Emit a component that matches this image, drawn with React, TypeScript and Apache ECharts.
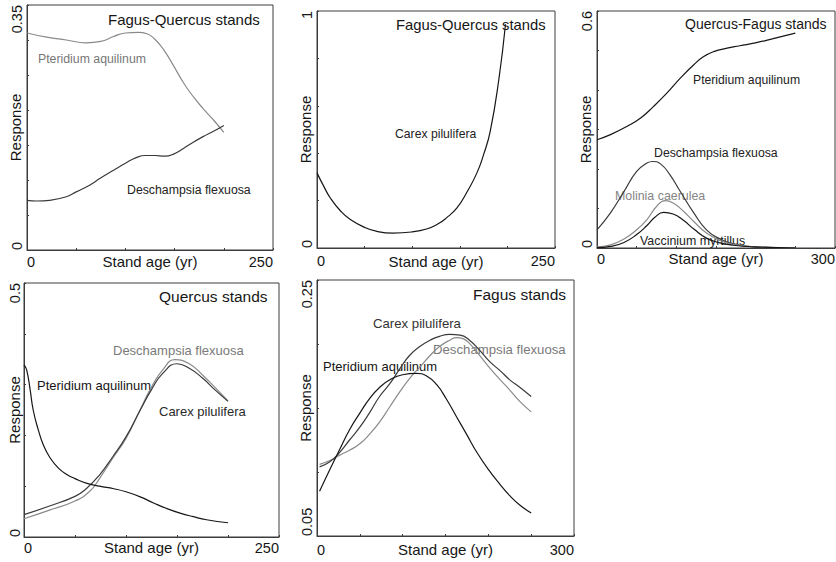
import { useEffect, useRef } from 'react';
import * as echarts from 'echarts';

type Pt = [number, number];

// Fitted species response curves: [stand age (yr), response]

// Fagus-Quercus stands
const fqPteridium: Pt[] = [
  [0, 0.31], [20, 0.304], [40, 0.3], [60, 0.296], [75, 0.298], [88, 0.305], [100, 0.31],
  [113, 0.311], [122, 0.309], [130, 0.301], [139, 0.286], [149, 0.263], [159, 0.239],
  [169, 0.219], [179, 0.202], [190, 0.185], [200, 0.168],
];
const fqDeschampsia: Pt[] = [
  [0, 0.071], [10, 0.07], [23, 0.071], [40, 0.076], [50, 0.083], [64, 0.093], [74, 0.102],
  [88, 0.114], [100, 0.124], [111, 0.132], [120, 0.135], [130, 0.135], [140, 0.134],
  [149, 0.137], [159, 0.145], [169, 0.154], [179, 0.162], [190, 0.17], [200, 0.178],
];
const fqCarex: Pt[] = [
  [0, 0.317], [7, 0.261], [14, 0.211], [25, 0.155], [35, 0.12], [50, 0.087], [63, 0.07],
  [80, 0.063], [100, 0.068], [115, 0.08], [126, 0.099], [136, 0.127], [147, 0.169],
  [157, 0.232], [168, 0.317], [175, 0.394], [182, 0.493], [191, 0.711], [198, 0.944],
];

// Quercus-Fagus stands
const qfPteridium: Pt[] = [
  [0, 0.274], [17, 0.287], [38, 0.308], [55, 0.329], [71, 0.358], [88, 0.392], [105, 0.43],
  [122, 0.464], [134, 0.484], [147, 0.497], [164, 0.506], [180, 0.512], [201, 0.52],
  [222, 0.53], [250, 0.544],
];
const qfDeschampsia: Pt[] = [
  [0, 0.046], [17, 0.089], [34, 0.143], [50, 0.194], [63, 0.215], [70, 0.219], [80, 0.213],
  [92, 0.185], [105, 0.143], [122, 0.089], [138, 0.046], [155, 0.023], [172, 0.011],
  [197, 0.003], [222, 0.001], [250, 0],
];
const qfMolinia: Pt[] = [
  [0, 0.003], [17, 0.008], [34, 0.023], [50, 0.046], [63, 0.072], [75, 0.105], [86, 0.12],
  [96, 0.114], [109, 0.093], [122, 0.067], [138, 0.038], [155, 0.019], [172, 0.009],
  [197, 0.003], [250, 0],
];
const qfVaccinium: Pt[] = [
  [0, 0.001], [17, 0.004], [34, 0.014], [50, 0.034], [63, 0.057], [73, 0.078], [84, 0.09],
  [96, 0.086], [109, 0.07], [122, 0.048], [138, 0.025], [155, 0.013], [172, 0.007],
  [197, 0.003], [250, 0],
];

// Quercus stands
const qPteridium: Pt[] = [
  [0, 0.339], [2.6, 0.329], [6, 0.29], [9, 0.25], [14, 0.211], [19, 0.181], [25.5, 0.156],
  [34, 0.135], [42, 0.123], [50, 0.115], [61, 0.106], [74, 0.1], [88, 0.095], [100, 0.089],
  [114, 0.079], [127, 0.067], [140, 0.056], [153, 0.047], [166, 0.04], [179, 0.034], [200, 0.028],
];
const qCarex: Pt[] = [
  [0, 0.044], [25, 0.061], [50, 0.08], [61, 0.095], [74, 0.122], [87, 0.158], [100, 0.197],
  [114, 0.25], [125, 0.29], [136, 0.322], [150, 0.341], [162, 0.332], [175, 0.313],
  [187, 0.29], [200, 0.267],
];
const qDeschampsia: Pt[] = [
  [0, 0.036], [25, 0.053], [50, 0.071], [65, 0.091], [74, 0.115], [87, 0.155], [100, 0.194],
  [114, 0.251], [125, 0.295], [136, 0.329], [148, 0.349], [162, 0.341], [175, 0.319],
  [187, 0.295], [200, 0.268],
];

// Fagus stands
const fPteridium: Pt[] = [
  [3, 0.085], [15, 0.102], [26, 0.117], [38, 0.133], [50, 0.146], [62, 0.158], [73, 0.166],
  [85, 0.172], [100, 0.176], [116, 0.177], [128, 0.175], [140, 0.168], [151, 0.157],
  [163, 0.143], [175, 0.129], [186, 0.116], [200, 0.102], [214, 0.09], [225, 0.0815],
  [237, 0.074], [250, 0.068],
];
const fCarex: Pt[] = [
  [3, 0.104], [15, 0.108], [26, 0.115], [38, 0.125], [50, 0.135], [62, 0.147], [73, 0.159],
  [85, 0.169], [97, 0.181], [108, 0.191], [120, 0.198], [132, 0.203], [143, 0.206],
  [155, 0.2075], [167, 0.207], [178, 0.203], [190, 0.195], [202, 0.186], [214, 0.179],
  [225, 0.172], [237, 0.166], [250, 0.159],
];
const fDeschampsia: Pt[] = [
  [3, 0.106], [15, 0.109], [26, 0.113], [38, 0.117], [50, 0.122], [62, 0.13], [73, 0.139],
  [85, 0.151], [97, 0.163], [108, 0.173], [120, 0.182], [132, 0.191], [143, 0.198],
  [155, 0.203], [163, 0.205], [171, 0.204], [178, 0.2005], [190, 0.191], [202, 0.181],
  [214, 0.172], [225, 0.164], [237, 0.155], [250, 0.147],
];

// Axis ranges and end tick labels per panel: [min, max, step]
const xRanges: [number, number, number][] = [
  [0, 250, 50], [0, 250, 50], [0, 300, 50], [0, 250, 50], [0, 300, 50],
];
const yRanges: [number, number, number][] = [
  [0, 0.35, 0.05], [0, 1, 0.2], [0, 0.6, 0.1], [0, 0.5, 0.1], [0.05, 0.25, 0.05],
];
const xTickLabels = [['0', '250'], ['0', '250'], ['0', '300'], ['0', '250'], ['0', '300']];
const yTickLabels = [['0', '0.35'], ['0', '1'], ['0', '0.6'], ['0', '0.5'], ['0.05', '0.25']];

const xTitle = 'Stand age (yr)';
const yTitle = 'Response';

// Panel frames in pixels plus label spacing
const panelBoxes = [
  { left: 27, top: 5, width: 246, height: 245, xMargin: 4, yMargin: 3 },
  { left: 317, top: 11, width: 238, height: 237, xMargin: 5.5, yMargin: 3 },
  { left: 597, top: 11, width: 238, height: 237, xMargin: 3, yMargin: 3 },
  { left: 24, top: 283, width: 255, height: 254, xMargin: 3, yMargin: 1.5 },
  { left: 317, top: 280, width: 257, height: 256, xMargin: 6, yMargin: 3 },
];

const FONT = '"Liberation Sans", Arial, Helvetica, sans-serif';
const BLACK = '#161616';
const DARK = '#3a3a3a';
const GRAY = '#8a8a8a';
const AXIS = '#3c3c3c';

const curves: { panel: number; data: Pt[]; color: string }[] = [
  { panel: 0, data: fqPteridium, color: GRAY },
  { panel: 0, data: fqDeschampsia, color: DARK },
  { panel: 1, data: fqCarex, color: BLACK },
  { panel: 2, data: qfPteridium, color: BLACK },
  { panel: 2, data: qfDeschampsia, color: DARK },
  { panel: 2, data: qfMolinia, color: GRAY },
  { panel: 2, data: qfVaccinium, color: BLACK },
  { panel: 3, data: qDeschampsia, color: GRAY },
  { panel: 3, data: qCarex, color: DARK },
  { panel: 3, data: qPteridium, color: BLACK },
  { panel: 4, data: fDeschampsia, color: GRAY },
  { panel: 4, data: fCarex, color: DARK },
  { panel: 4, data: fPteridium, color: BLACK },
];

// Stand-type headings and species names: [text, x, y, size, colour]
const annotations: [string, number, number, number, string][] = [
  ['Fagus-Quercus stands', 108, 19, 15, BLACK],
  ['Pteridium aquilinum', 38, 58.5, 12.3, '#777777'],
  ['Deschampsia flexuosa', 127, 190, 12.3, '#222222'],
  ['Fagus-Quercus stands', 396, 25.3, 14.8, BLACK],
  ['Carex pilulifera', 395, 133.7, 12.2, '#222222'],
  ['Quercus-Fagus stands', 685, 24, 14, BLACK],
  ['Pteridium aquilinum', 693, 79.7, 12.2, '#222222'],
  ['Deschampsia flexuosa', 654, 153, 12.3, '#222222'],
  ['Molinia caerulea', 615, 196.3, 12.4, '#858585'],
  ['Vaccinium myrtillus', 640, 241, 12.4, '#222222'],
  ['Quercus stands', 159, 296.3, 15.5, BLACK],
  ['Deschampsia flexuosa', 113, 350.3, 13, '#7a7a7a'],
  ['Pteridium aquilinum', 37, 385.5, 13, BLACK],
  ['Carex pilulifera', 159, 411.2, 13, '#2a2a2a'],
  ['Fagus stands', 473, 294.3, 15.5, BLACK],
  ['Carex pilulifera', 373, 323.8, 13.2, '#333333'],
  ['Deschampsia flexuosa', 433, 349.7, 13.2, '#7a7a7a'],
  ['Pteridium aquilinum', 323, 366.3, 13, BLACK],
];

const near = (a: number, b: number) => Math.abs(a - b) < 1e-9;

function endLabels(min: number, max: number, labels: string[]) {
  return (v: number) => (near(v, min) ? labels[0] : near(v, max) ? labels[1] : '');
}

export default function App() {
  const ref = useRef<HTMLDivElement>(null);

  useEffect(() => {
    if (!ref.current) return;
    const chart = echarts.init(ref.current, undefined, { renderer: 'svg' });

    const axisLine = { show: true, onZero: false, lineStyle: { color: AXIS, width: 1 } };
    const axisTick = { show: true, inside: true, length: 2, lineStyle: { color: AXIS, width: 1 } };
    const nameStyle = { fontFamily: FONT, fontSize: 15, color: BLACK };

    const option: any = {
      animation: false,
      backgroundColor: '#ffffff',
      grid: panelBoxes.map((b) => ({
        left: b.left,
        top: b.top,
        width: b.width,
        height: b.height,
        show: true,
        borderColor: AXIS,
        borderWidth: 1,
        backgroundColor: 'transparent',
        containLabel: false,
        outerBoundsMode: 'none',
      })),
      xAxis: panelBoxes.map((b, i) => {
        const [min, max, step] = xRanges[i];
        return {
          type: 'value',
          gridIndex: i,
          min,
          max,
          interval: step,
          name: xTitle,
          nameLocation: 'middle',
          nameGap: b.xMargin,
          nameMoveOverlap: false,
          nameTextStyle: { ...nameStyle, verticalAlign: 'top' },
          axisLine,
          axisTick,
          splitLine: { show: false },
          axisLabel: {
            show: true,
            margin: b.xMargin,
            fontFamily: FONT,
            fontSize: 14.5,
            color: BLACK,
            showMinLabel: true,
            showMaxLabel: true,
            alignMinLabel: 'left',
            alignMaxLabel: 'right',
            formatter: endLabels(min, max, xTickLabels[i]),
          },
        };
      }),
      yAxis: panelBoxes.map((b, i) => {
        const [min, max, step] = yRanges[i];
        return {
          type: 'value',
          gridIndex: i,
          min,
          max,
          interval: step,
          name: yTitle,
          nameLocation: 'middle',
          nameRotate: 90,
          nameGap: b.yMargin + 1,
          nameMoveOverlap: false,
          nameTextStyle: nameStyle,
          axisLine,
          axisTick,
          splitLine: { show: false },
          axisLabel: {
            show: true,
            rotate: 90,
            margin: b.yMargin,
            fontFamily: FONT,
            fontSize: 14.5,
            color: BLACK,
            showMinLabel: true,
            showMaxLabel: true,
            alignMinLabel: 'left',
            alignMaxLabel: 'right',
            formatter: endLabels(min, max, yTickLabels[i]),
          },
        };
      }),
      series: curves.map((c) => ({
        type: 'line',
        xAxisIndex: c.panel,
        yAxisIndex: c.panel,
        data: c.data,
        symbol: 'none',
        smooth: 0.5,
        silent: true,
        lineStyle: { color: c.color, width: 1.2 },
      })),
      graphic: annotations.map(([text, x, y, size, fill]) => ({
        type: 'text',
        x,
        y,
        silent: true,
        style: {
          text,
          fill,
          font: `${size}px ${FONT}`,
          textAlign: 'left',
          textVerticalAlign: 'middle',
        },
      })),
    };

    chart.setOption(option);
    return () => chart.dispose();
  }, []);

  return (
    <div
      ref={ref}
      style={{ position: 'fixed', left: 0, top: 0, width: 836, height: 562, background: '#fff' }}
    />
  );
}
